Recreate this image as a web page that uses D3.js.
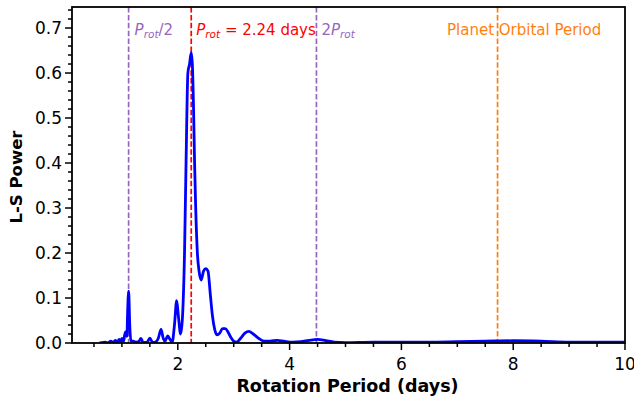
<!DOCTYPE html>
<html><head><meta charset="utf-8">
<script src="https://cdn.jsdelivr.net/npm/d3@7"></script>
<style>body{margin:0;background:#fff}svg{display:block}text{font-family:"DejaVu Sans",sans-serif}</style>
</head><body><svg id="c" width="634" height="403"></svg>
<script>
const periods = [0.60,0.65,0.70,0.75,0.80,0.85,0.88,0.92,0.95,0.98,1.00,1.03,1.05,1.07,1.09,1.10,1.12,1.14,1.16,1.20,1.25,1.30,1.34,1.38,1.45,1.50,1.55,1.60,1.65,1.70,1.74,1.77,1.82,1.86,1.90,1.94,1.98,2.01,2.05,2.08,2.12,2.15,2.18,2.21,2.24,2.26,2.28,2.30,2.32,2.35,2.38,2.42,2.46,2.50,2.54,2.58,2.62,2.66,2.70,2.75,2.80,2.85,2.90,2.95,3.00,3.05,3.12,3.20,3.27,3.35,3.45,3.55,3.65,3.78,3.90,4.05,4.20,4.35,4.50,4.65,4.80,5.00,5.50,6.00,6.50,7.00,7.50,8.00,8.50,9.00,9.50,10.0];
const power   = [0.000,0.001,0.002,0.000,0.004,0.001,0.006,0.002,0.008,0.003,0.010,0.004,0.018,0.025,0.015,0.060,0.115,0.040,0.005,0.004,0.002,0.003,0.010,0.001,0.002,0.011,0.001,0.002,0.010,0.030,0.010,0.004,0.016,0.008,0.002,0.040,0.094,0.060,0.020,0.050,0.200,0.420,0.600,0.620,0.645,0.620,0.530,0.400,0.300,0.200,0.160,0.140,0.160,0.165,0.160,0.110,0.060,0.030,0.018,0.022,0.032,0.032,0.024,0.012,0.004,0.002,0.010,0.022,0.026,0.020,0.010,0.004,0.004,0.006,0.004,0.002,0.003,0.006,0.008,0.005,0.002,0.001,0.002,0.002,0.002,0.003,0.004,0.005,0.004,0.002,0.002,0.002];
const xTicks = [2,4,6,8,10];
const yTicks = [0.0,0.1,0.2,0.3,0.4,0.5,0.6,0.7];
const prot = 2.24;
const orbital = 7.72;

const svg = d3.select("#c");
const L=72, R=625, T=7, B=343;
const x = d3.scaleLinear().domain([0.107,10]).range([L,R]);
const y = d3.scaleLinear().domain([0,0.7467]).range([B,T]);

const data = periods.map((p,i)=>[p,power[i]]);
const g = svg.append("g");
g.append("defs").append("clipPath").attr("id","clip").append("rect").attr("x",L).attr("y",T).attr("width",R-L).attr("height",B-T);

const vlines = [
  {v:prot/2, c:"#9467bd"},
  {v:prot, c:"#ff0000"},
  {v:2*prot, c:"#9467bd"},
  {v:orbital, c:"#ff7f0e"}
];
g.selectAll("line.v").data(vlines).join("line")
  .attr("x1",d=>x(d.v)).attr("x2",d=>x(d.v)).attr("y1",T).attr("y2",B)
  .attr("stroke",d=>d.c).attr("stroke-width",1.7).attr("stroke-dasharray","5.5,2.4");

g.append("path").datum(data).attr("clip-path","url(#clip)")
  .attr("fill","none").attr("stroke","#0000ff").attr("stroke-width",2.8).attr("stroke-linejoin","round")
  .attr("d", d3.line().x(d=>x(d[0])).y(d=>y(d[1])).curve(d3.curveMonotoneX));

function lab(xpx, color, parts){
  const t = g.append("text").attr("x",xpx).attr("y",35).attr("fill",color).attr("font-size",15);
  parts.forEach(p=>{
    const s = t.append("tspan").text(p.t);
    if(p.i) s.attr("font-style","italic");
    if(p.sub) s.attr("font-size",10.5).attr("dy",3);
    if(p.up) s.attr("dy",-3);
  });
}
lab(x(prot/2)+6, "#9467bd", [{t:"P",i:1},{t:"rot",i:1,sub:1},{t:"/2",up:1}]);
lab(x(prot)+5, "#ff0000", [{t:"P",i:1},{t:"rot",i:1,sub:1},{t:" = 2.24 days",up:1}]);
lab(x(2*prot)+5, "#9467bd", [{t:"2"},{t:"P",i:1},{t:"rot",i:1,sub:1}]);
lab(447, "#ff7f0e", [{t:"Planet Orbital Period"}]);

svg.append("rect").attr("x",L).attr("y",T).attr("width",R-L).attr("height",B-T)
  .attr("fill","none").attr("stroke","#000").attr("stroke-width",1.8);

const xMinor = d3.range(0.5,10.01,0.5).filter(v=>!xTicks.includes(v));
svg.selectAll("line.xm").data(xMinor).join("line").attr("x1",d=>x(d)).attr("x2",d=>x(d)).attr("y1",B).attr("y2",B+4).attr("stroke","#000").attr("stroke-width",1.5);
svg.selectAll("line.xM").data(xTicks).join("line").attr("x1",d=>x(d)).attr("x2",d=>x(d)).attr("y1",B).attr("y2",B+7).attr("stroke","#000").attr("stroke-width",1.5);
svg.selectAll("text.xt").data(xTicks).join("text").attr("x",d=>x(d)).attr("y",370).attr("text-anchor","middle").attr("font-size",17).text(d=>d);

const yMinor = d3.range(0,0.7401,0.02).filter(v=>Math.abs(v*10-Math.round(v*10))>1e-6);
svg.selectAll("line.ym").data(yMinor).join("line").attr("x1",L-4).attr("x2",L).attr("y1",d=>y(d)).attr("y2",d=>y(d)).attr("stroke","#000").attr("stroke-width",1.5);
svg.selectAll("line.yM").data(yTicks).join("line").attr("x1",L-7).attr("x2",L).attr("y1",d=>y(d)).attr("y2",d=>y(d)).attr("stroke","#000").attr("stroke-width",1.5);
svg.selectAll("text.yt").data(yTicks).join("text").attr("x",L-10).attr("y",d=>y(d)+6).attr("text-anchor","end").attr("font-size",17).text(d=>d.toFixed(1));

svg.append("text").attr("x",(L+R)/2-1).attr("y",392).attr("text-anchor","middle").attr("font-size",17.5).attr("font-weight","bold").text("Rotation Period (days)");
svg.append("text").attr("transform",`translate(22,${(T+B)/2+2}) rotate(-90)`).attr("text-anchor","middle").attr("font-size",16.5).attr("font-weight","bold").text("L-S Power");
</script></body></html>
